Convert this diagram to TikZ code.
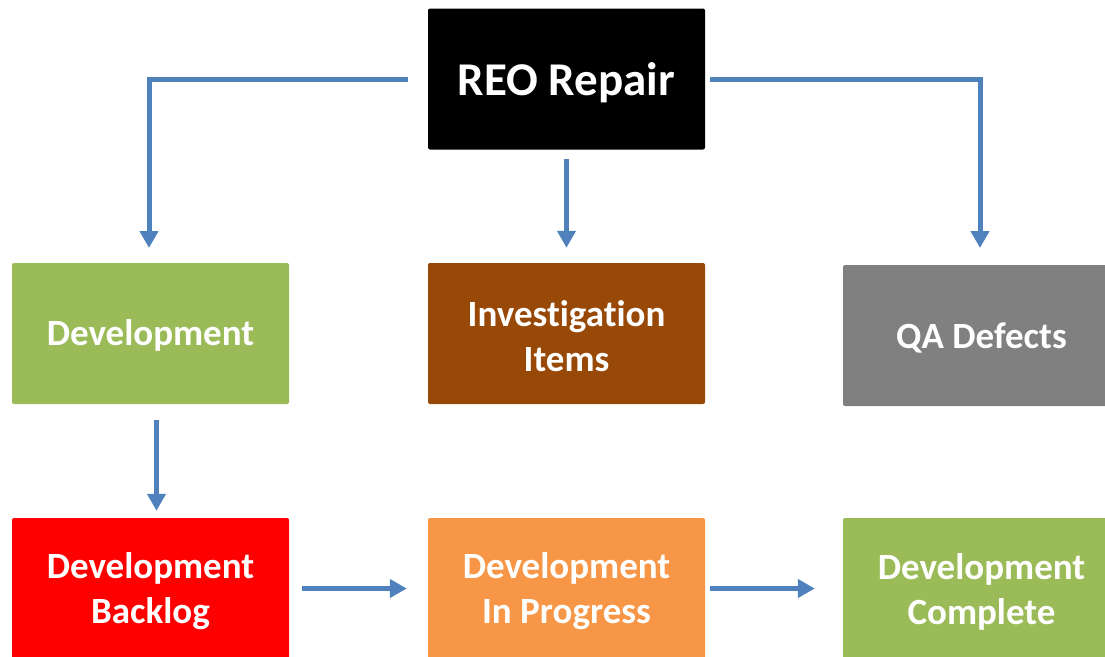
\documentclass[tikz,border=0pt]{standalone}
\usepackage{fontspec}
\setmainfont{Carlito}[Ligatures=NoCommon]
\usetikzlibrary{arrows.meta}
\definecolor{cgreen}{HTML}{9BBB59}
\definecolor{cbrown}{HTML}{984807}
\definecolor{cgray}{HTML}{808080}
\definecolor{cred}{HTML}{FF0000}
\definecolor{corange}{HTML}{F79646}
\definecolor{cblue}{HTML}{4F81BD}
\tikzset{
  box/.style={rectangle, rounded corners=2pt, minimum width=277pt, minimum height=141pt,
    inner sep=0pt},
  txt/.style={inner sep=0pt, text=white, font=\bfseries\fontsize{37}{45}\selectfont, align=center},
  conn/.style={draw=cblue, line width=5pt, -{Triangle[length=17pt,width=18pt]}}
}
\begin{document}
\begin{tikzpicture}[x=1pt,y=-1pt]
\useasboundingbox (0,0) rectangle (1105,656);
\clip (0,0) rectangle (1105,656);
\node[box, fill=black] (reo) at (566.5,79) {};
\node[box, fill=cgreen] (dev) at (150.5,333.5) {};
\node[box, fill=cbrown] (inv) at (566.5,333.5) {};
\node[box, fill=cgray] (qa) at (981.5,335.5) {};
\node[box, fill=cred] (back) at (150.5,588.5) {};
\node[box, fill=corange] (prog) at (566.5,588.5) {};
\node[box, fill=cgreen] (comp) at (981.5,588.5) {};
\node[txt, font=\bfseries\fontsize{47}{54}\selectfont] (reot) at ([yshift=-4pt]reo.center) {REO Repair};
\node[txt] (devt) at ([yshift=-2pt]dev.center) {Development};
\node[txt] (invt) at ([yshift=-3pt]inv.center) {Investigation\\Items};
\node[txt] (qat) at ([yshift=-2pt]qa.center) {QA Defects};
\node[txt] (backt) at ([yshift=-3pt]back.center) {Development\\Backlog};
\node[txt] (progt) at ([yshift=-3pt]prog.center) {Development\\In Progress};
\node[txt] (compt) at ([yshift=-3pt]comp.center) {Development\\Complete};
\coordinate (lt) at (149,248);
\coordinate (rt) at (980,248);
\draw[conn] ([xshift=-20pt]reo.west) -| (lt);
\draw[conn] ([xshift=5pt]reo.east) -| (rt);
\draw[conn] ([yshift=-9pt]reo.south) -- ([yshift=15pt]inv.north);
\draw[conn] ([xshift=6pt,yshift=-16pt]dev.south) -- ([xshift=6pt,yshift=7pt]back.north);
\draw[conn] ([xshift=13pt]back.east) -- ([xshift=-21pt]prog.west);
\draw[conn] ([xshift=5pt]prog.east) -- ([xshift=-28pt]comp.west);
\end{tikzpicture}
\end{document}
